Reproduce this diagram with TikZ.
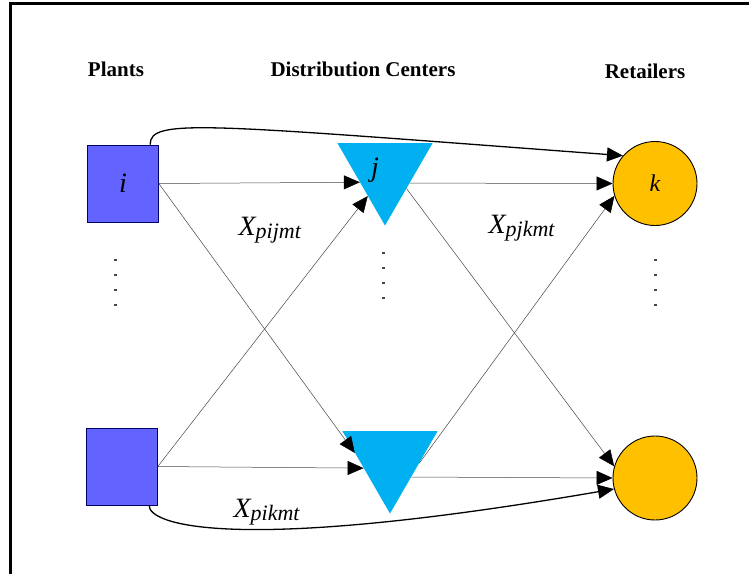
\documentclass[tikz,border=0pt]{standalone}
\usepackage{fontspec}
\setmainfont{Liberation Serif}
\usetikzlibrary{arrows.meta,shapes.geometric}
\definecolor{plantblue}{RGB}{99,99,255}
\definecolor{dcblue}{RGB}{0,176,240}
\definecolor{shopgold}{RGB}{255,192,0}
\definecolor{linegray}{RGB}{70,70,70}
\newcommand{\flowvar}[1]{\fontsize{28}{30}\selectfont\itshape X\raisebox{-3pt}{\fontsize{22}{24}\selectfont #1}}
\begin{document}
\begin{tikzpicture}[x=1pt, y=-1pt,
  plant/.style={draw=black!60!blue, line width=0.6pt, fill=plantblue, minimum width=71pt, minimum height=77pt, inner sep=0pt},
  dc/.style={regular polygon, regular polygon sides=3, shape border rotate=180, fill=dcblue, minimum size=110pt, inner sep=0pt},
  shop/.style={circle, draw, line width=0.9pt, fill=shopgold, minimum size=84pt, inner sep=0pt},
  head/.style={font=\fontsize{21}{24}\selectfont\bfseries},
  tag/.style={font=\fontsize{28}{30}\selectfont\itshape},
  flow/.style={linegray, line width=0.5pt, -{Triangle[length=16pt,width=14pt,black]}},
  direct/.style={black, line width=1.3pt, -{Triangle[length=16pt,width=14pt,black]}}]
\useasboundingbox (0,0) rectangle (749,573);
\draw[line width=3pt] (10,3) rectangle (800,620);
\node[head] (plants) at (116,69) {Plants};
\node[head] (centers) at (363,69) {Distribution Centers};
\node[head] (shops) at (645,71) {Retailers};
\node[plant, tag] (i) at (123,183.5) {i};
\node[plant] (p2) at (122,466.5) {};
\node[dc, label={[tag, xshift=-10pt]center:j}] (j) at (385,170.5) {};
\node[dc] (d2) at (390,458.5) {};
\node[shop, font=\fontsize{24}{26}\selectfont\itshape] (k) at (655,183.5) {k};
\node[shop] (r2) at (655,478) {};
\begin{scope}
\draw[flow] (i.east) -- (j.205);
\draw[flow] (i.east) -- (d2.171);
\draw[flow] (p2.east) -- (j.236);
\draw[flow] (p2.east) -- (d2.200);
\draw[flow] (j.333) -- (k.west);
\draw[flow] (j.320) -- (r2.164);
\draw[flow] (d2.351) -- (k.197);
\draw[flow] (d2.319) -- (r2.west);
\end{scope}
\draw[direct] (i.55) .. controls (150,118) and (200,124) .. (k.139);
\draw[direct] (p2.305) .. controls (148,524) and (230,555) .. (r2.195);
\node[anchor=base west] (xij) at (235,235) {\flowvar{pijmt}};
\node[anchor=base west] (xjk) at (485,233) {\flowvar{pjkmt}};
\node[anchor=base west] (xik) at (230,517) {\flowvar{pikmt}};
\foreach \x/\y in {115/259, 383/252, 655/259}
  \foreach \n in {0,1,2,3}
    \fill[linegray] (\x-1.5,\y+15*\n) rectangle ++(3,1.5);
\end{tikzpicture}
\end{document}
